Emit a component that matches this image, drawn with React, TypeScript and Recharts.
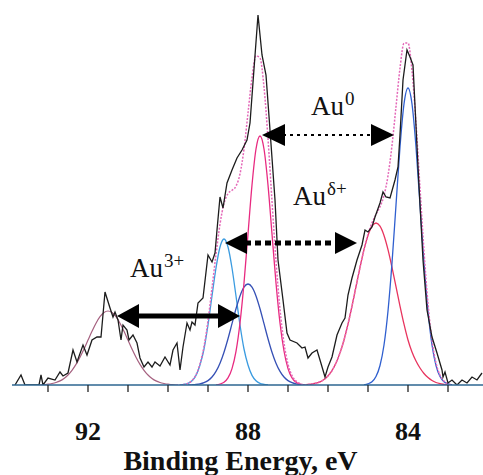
import { LineChart, Line, XAxis, YAxis, ReferenceLine, ReferenceDot, Label } from 'recharts'

type Pt = [number, number]

// binding energy (eV), intensity (counts, arbitrary)
const rawSpectrum: Pt[] = [
  [93.825, 0], [93.675, 10], [93.575, 0], [93.225, 0], [93.175, 10], [93.125, 0], [93.0, 7],
  [92.825, 5], [92.7, 13], [92.625, 9], [92.5, 12], [92.375, 35], [92.275, 23], [92.125, 40],
  [92.025, 30], [91.9, 45], [91.775, 48], [91.675, 48], [91.575, 93], [91.45, 77], [91.375, 68],
  [91.325, 73], [91.25, 65], [91.175, 45], [91.125, 60], [91.025, 55], [90.975, 45], [90.875, 50],
  [90.775, 42], [90.7, 27], [90.6, 18], [90.5, 23], [90.4, 18], [90.325, 23], [90.2, 19],
  [90.075, 28], [89.95, 20], [89.875, 35], [89.775, 42], [89.7, 15], [89.625, 38], [89.525, 62],
  [89.45, 55], [89.4, 63], [89.325, 60], [89.25, 82], [89.125, 87], [89.0, 130], [88.9, 123],
  [88.825, 132], [88.775, 155], [88.7, 188], [88.625, 177], [88.525, 202], [88.4, 215],
  [88.275, 227], [88.15, 235], [88.025, 245], [87.95, 262], [87.75, 370], [87.65, 330],
  [87.55, 310], [87.45, 255], [87.325, 185], [87.25, 125], [87.125, 85], [87.025, 52],
  [86.95, 45], [86.775, 42], [86.65, 37], [86.575, 38], [86.5, 27], [86.4, 32], [86.275, 35],
  [86.2, 25], [86.075, 8], [86.0, 18], [85.9, 28], [85.775, 50], [85.65, 62], [85.575, 67],
  [85.5, 90], [85.4, 107], [85.275, 125], [85.15, 140], [85.075, 155], [85.0, 153], [84.9, 158],
  [84.825, 168], [84.7, 182], [84.625, 193], [84.55, 188], [84.45, 187], [84.325, 205],
  [84.25, 218], [84.2, 250], [84.125, 305], [84.025, 335], [83.95, 328], [83.875, 320],
  [83.75, 218], [83.625, 125], [83.525, 75], [83.4, 48], [83.275, 32], [83.15, 15], [83.125, 8],
  [83.075, 13], [83.0, 2], [82.9, 5], [82.775, 0], [82.65, 5], [82.525, 2], [82.4, 8],
  [82.275, 5], [82.15, 12],
]

const envelopeFit: Pt[] = [
  [89.8, 0], [89.7, 0], [89.6, 0.6], [89.5, 1.6], [89.4, 4.4], [89.3, 10.1], [89.2, 21.1],
  [89.1, 38.3], [89.0, 64.4], [88.9, 97], [88.8, 130.6], [88.7, 160.8], [88.6, 181.6],
  [88.5, 191.4], [88.4, 194.7], [88.3, 198.9], [88.2, 211.1], [88.1, 235.9], [88.0, 272],
  [87.9, 307.5], [87.8, 329.3], [87.7, 326.9], [87.6, 297.9], [87.5, 246.3], [87.4, 183.8],
  [87.3, 123.8], [87.2, 75.6], [87.1, 42], [87.0, 20.8], [86.9, 9.4], [86.8, 3.9], [86.7, 1.5],
  [86.6, 0.2], [86.5, 0.5], [86.4, 1.0], [86.3, 1.8], [86.2, 3.2], [86.1, 5.5], [86.0, 9.1],
  [85.9, 14.4], [85.8, 21.9], [85.7, 32.1], [85.6, 45.0], [85.5, 60.8], [85.4, 78.9],
  [85.3, 98.3], [85.2, 117.6], [85.1, 135.3], [85.0, 150.7], [84.9, 162.1], [84.8, 170.5],
  [84.7, 178.3], [84.6, 189.5], [84.5, 209.3], [84.4, 239.6], [84.3, 278.3], [84.2, 316.9],
  [84.1, 341.8], [84.0, 342], [83.9, 314], [83.8, 262], [83.7, 197], [83.6, 133.5],
  [83.5, 81.5], [83.4, 44.5], [83.3, 22], [83.2, 9.8], [83.1, 3.9], [83.0, 1.2], [82.9, 0],
]

// Au3+ 4f7/2
const au3Peak: Pt[] = [
  [93.2, 0], [93.1, 0.4], [93.0, 0.8], [92.9, 1.5], [92.8, 2.5], [92.7, 4.1], [92.6, 6.6],
  [92.5, 10.0], [92.4, 14.7], [92.3, 20.6], [92.2, 27.8], [92.1, 36.0], [92.0, 44.9],
  [91.9, 53.7], [91.8, 61.8], [91.7, 68.3], [91.6, 72.5], [91.5, 74], [91.4, 72.5], [91.3, 68.3],
  [91.2, 61.8], [91.1, 53.7], [91.0, 44.9], [90.9, 36.0], [90.8, 27.8], [90.7, 20.6],
  [90.6, 14.7], [90.5, 10.0], [90.4, 6.6], [90.3, 4.1], [90.2, 2.5], [90.1, 1.5], [90.0, 0.8],
  [89.9, 0.4], [89.8, 0],
]

// Au delta+ 4f5/2
const auDeltaHigh: Pt[] = [
  [89.7, 0], [89.6, 0.6], [89.5, 1.6], [89.4, 4.2], [89.3, 9.6], [89.2, 20], [89.1, 36],
  [89.0, 60], [88.9, 89], [88.8, 117], [88.7, 138], [88.6, 146], [88.5, 138], [88.4, 117],
  [88.3, 89], [88.2, 60], [88.1, 36], [88.0, 20], [87.9, 9.6], [87.8, 4.2], [87.7, 1.6],
  [87.6, 0.6], [87.5, 0],
]

// Au3+ 4f5/2
const au3Low: Pt[] = [
  [89.5, 0], [89.4, 0.2], [89.3, 0.5], [89.2, 1.1], [89.1, 2.3], [89.0, 4.4], [88.9, 8.0],
  [88.8, 13.6], [88.7, 21.8], [88.6, 32.8], [88.5, 46.3], [88.4, 61.3], [88.3, 76.3],
  [88.2, 89.1], [88.1, 97.9], [88.0, 101], [87.9, 97.9], [87.8, 89.1], [87.7, 76.3],
  [87.6, 61.3], [87.5, 46.3], [87.4, 32.8], [87.3, 21.8], [87.2, 13.6], [87.1, 8.0],
  [87.0, 4.4], [86.9, 2.3], [86.8, 1.1], [86.7, 0.5], [86.6, 0.2], [86.5, 0],
]

// Au0 4f5/2
const au0High: Pt[] = [
  [88.8, 0], [88.7, 1.0], [88.6, 2.8], [88.5, 7.1], [88.4, 16.4], [88.3, 33.6], [88.2, 62],
  [88.1, 102], [88.0, 151], [87.9, 200], [87.8, 236], [87.7, 249], [87.6, 236], [87.5, 200],
  [87.4, 151], [87.3, 102], [87.2, 62], [87.1, 34], [87.0, 16.4], [86.9, 7.1], [86.8, 2.8],
  [86.7, 1.0], [86.6, 0],
]

// Au delta+ 4f7/2
const auDeltaLow: Pt[] = [
  [86.6, 0], [86.5, 0.5], [86.4, 1.0], [86.3, 1.8], [86.2, 3.2], [86.1, 5.5], [86.0, 9.1],
  [85.9, 14.4], [85.8, 21.9], [85.7, 32.1], [85.6, 45.0], [85.5, 60.8], [85.4, 78.9],
  [85.3, 98.3], [85.2, 117.6], [85.1, 135.3], [85.0, 149.5], [84.9, 158.8], [84.8, 162],
  [84.7, 158.8], [84.6, 149.5], [84.5, 135.3], [84.4, 117.6], [84.3, 98.3], [84.2, 78.9],
  [84.1, 60.8], [84.0, 45.0], [83.9, 33], [83.8, 24], [83.7, 17], [83.6, 11.5], [83.5, 7.5],
  [83.4, 4.5], [83.3, 2.5], [83.2, 1.3], [83.1, 0.6], [83.0, 0],
]

// Au0 4f7/2
const au0Low: Pt[] = [
  [85.1, 0], [85.0, 1.2], [84.9, 3.3], [84.8, 8.5], [84.7, 19.5], [84.6, 40], [84.5, 74],
  [84.4, 122], [84.3, 180], [84.2, 238], [84.1, 281], [84.0, 297], [83.9, 281], [83.8, 238],
  [83.7, 180], [83.6, 122], [83.5, 74], [83.4, 40], [83.3, 19.5], [83.2, 8.5], [83.1, 3.3],
  [83.0, 1.2], [82.9, 0],
]

const axisTicks = [93, 92, 91, 90, 89, 88, 87, 86, 85, 84, 83]
const labelledTicks = [92, 88, 84]

// doublet separation arrows: [from BE, to BE, level]
const arrowAu0: Pt[] = [[87.65, 250], [84.35, 250]]
const arrowDelta: Pt[] = [[88.575, 142], [85.275, 142]]
const arrowAu3: Pt[] = [[91.275, 69], [88.2, 69]]

const stateLabels = [
  { be: 86.425, level: 270, sup: '0' },
  { be: 86.875, level: 180, sup: 'δ+' },
  { be: 90.95, level: 108, sup: '3+' },
]

const rows = (pts: Pt[]) => pts.map(([be, v]) => ({ be, v }))
const serif = '"Liberation Serif", "Times New Roman", serif'

function arrowShape(width: number, dash: string | undefined, head: number, half: number) {
  return (p: any) => {
    if (p.x1 == null || p.x2 == null) return null
    const l = Math.min(p.x1, p.x2)
    const r = Math.max(p.x1, p.x2)
    const y = p.y1
    return (
      <g>
        <line x1={l + head - 2} y1={y} x2={r - head + 2} y2={y} stroke="#000" strokeWidth={width} strokeDasharray={dash} />
        <polygon points={`${l},${y} ${l + head},${y - half} ${l + head},${y + half}`} fill="#000" />
        <polygon points={`${r},${y} ${r - head},${y - half} ${r - head},${y + half}`} fill="#000" />
      </g>
    )
  }
}

export default function App() {
  const seg = (a: Pt[]) => [{ x: a[0][0], y: a[0][1] }, { x: a[1][0], y: a[1][1] }]
  return (
    <div style={{ position: 'absolute', left: 0, top: 0, background: '#fff' }}>
      <LineChart width={483} height={475} margin={{ top: 5, right: 0, bottom: 0, left: 12 }}>
        <XAxis
          type="number"
          dataKey="be"
          domain={[82.125, 93.9]}
          reversed
          allowDataOverflow
          ticks={axisTicks}
          interval={0}
          tickFormatter={(v: number) => (labelledTicks.includes(v) ? String(v) : '')}
          tickSize={7}
          tickMargin={30}
          tickLine={{ stroke: '#222', strokeWidth: 1.3 }}
          axisLine={{ stroke: '#2d6690', strokeWidth: 1.6 }}
          tick={{ fill: '#111', fontSize: 26, fontWeight: 'bold', fontFamily: serif }}
          height={90}
        >
          <Label
            value="Binding Energy, eV"
            position="insideBottom"
            offset={5}
            dx={-7}
            fill="#111"
            fontSize={28}
            fontWeight="bold"
            fontFamily={serif}
          />
        </XAxis>
        <YAxis type="number" domain={[0, 380]} hide allowDataOverflow />

        <Line data={rows(au3Peak)} dataKey="v" type="monotone" stroke="#a5607f" strokeWidth={1.2} dot={false} isAnimationActive={false} />
        <Line data={rows(auDeltaHigh)} dataKey="v" type="monotone" stroke="#3a9be0" strokeWidth={1.3} dot={false} isAnimationActive={false} />
        <Line data={rows(au3Low)} dataKey="v" type="monotone" stroke="#3550b5" strokeWidth={1.3} dot={false} isAnimationActive={false} />
        <Line data={rows(au0High)} dataKey="v" type="monotone" stroke="#e82a80" strokeWidth={1.3} dot={false} isAnimationActive={false} />
        <Line data={rows(auDeltaLow)} dataKey="v" type="monotone" stroke="#e8345e" strokeWidth={1.3} dot={false} isAnimationActive={false} />
        <Line data={rows(au0Low)} dataKey="v" type="monotone" stroke="#2f5fcf" strokeWidth={1.3} dot={false} isAnimationActive={false} />
        <Line data={rows(envelopeFit)} dataKey="v" type="monotone" stroke="#e468b8" strokeWidth={1.5} strokeDasharray="2 1.5" dot={false} isAnimationActive={false} />
        <Line data={rows(rawSpectrum)} dataKey="v" type="linear" stroke="#1c1c1c" strokeWidth={1.3} dot={false} isAnimationActive={false} />

        <ReferenceLine segment={seg(arrowAu0)} ifOverflow="visible" shape={arrowShape(2, '3 4', 23, 11)} />
        <ReferenceLine segment={seg(arrowDelta)} ifOverflow="visible" shape={arrowShape(5, '6 4', 22, 11)} />
        <ReferenceLine segment={seg(arrowAu3)} ifOverflow="visible" shape={arrowShape(5, undefined, 22, 12)} />

        {stateLabels.map((s) => (
          <ReferenceDot
            key={s.sup}
            x={s.be}
            y={s.level}
            r={0}
            ifOverflow="visible"
            shape={(p: any) => (
              <text x={p.cx} y={p.cy} fontFamily={serif} fontSize={27} fill="#111">
                Au
                <tspan dx={1} dy={-10} fontSize={19}>
                  {s.sup}
                </tspan>
              </text>
            )}
          />
        ))}
      </LineChart>
    </div>
  )
}
